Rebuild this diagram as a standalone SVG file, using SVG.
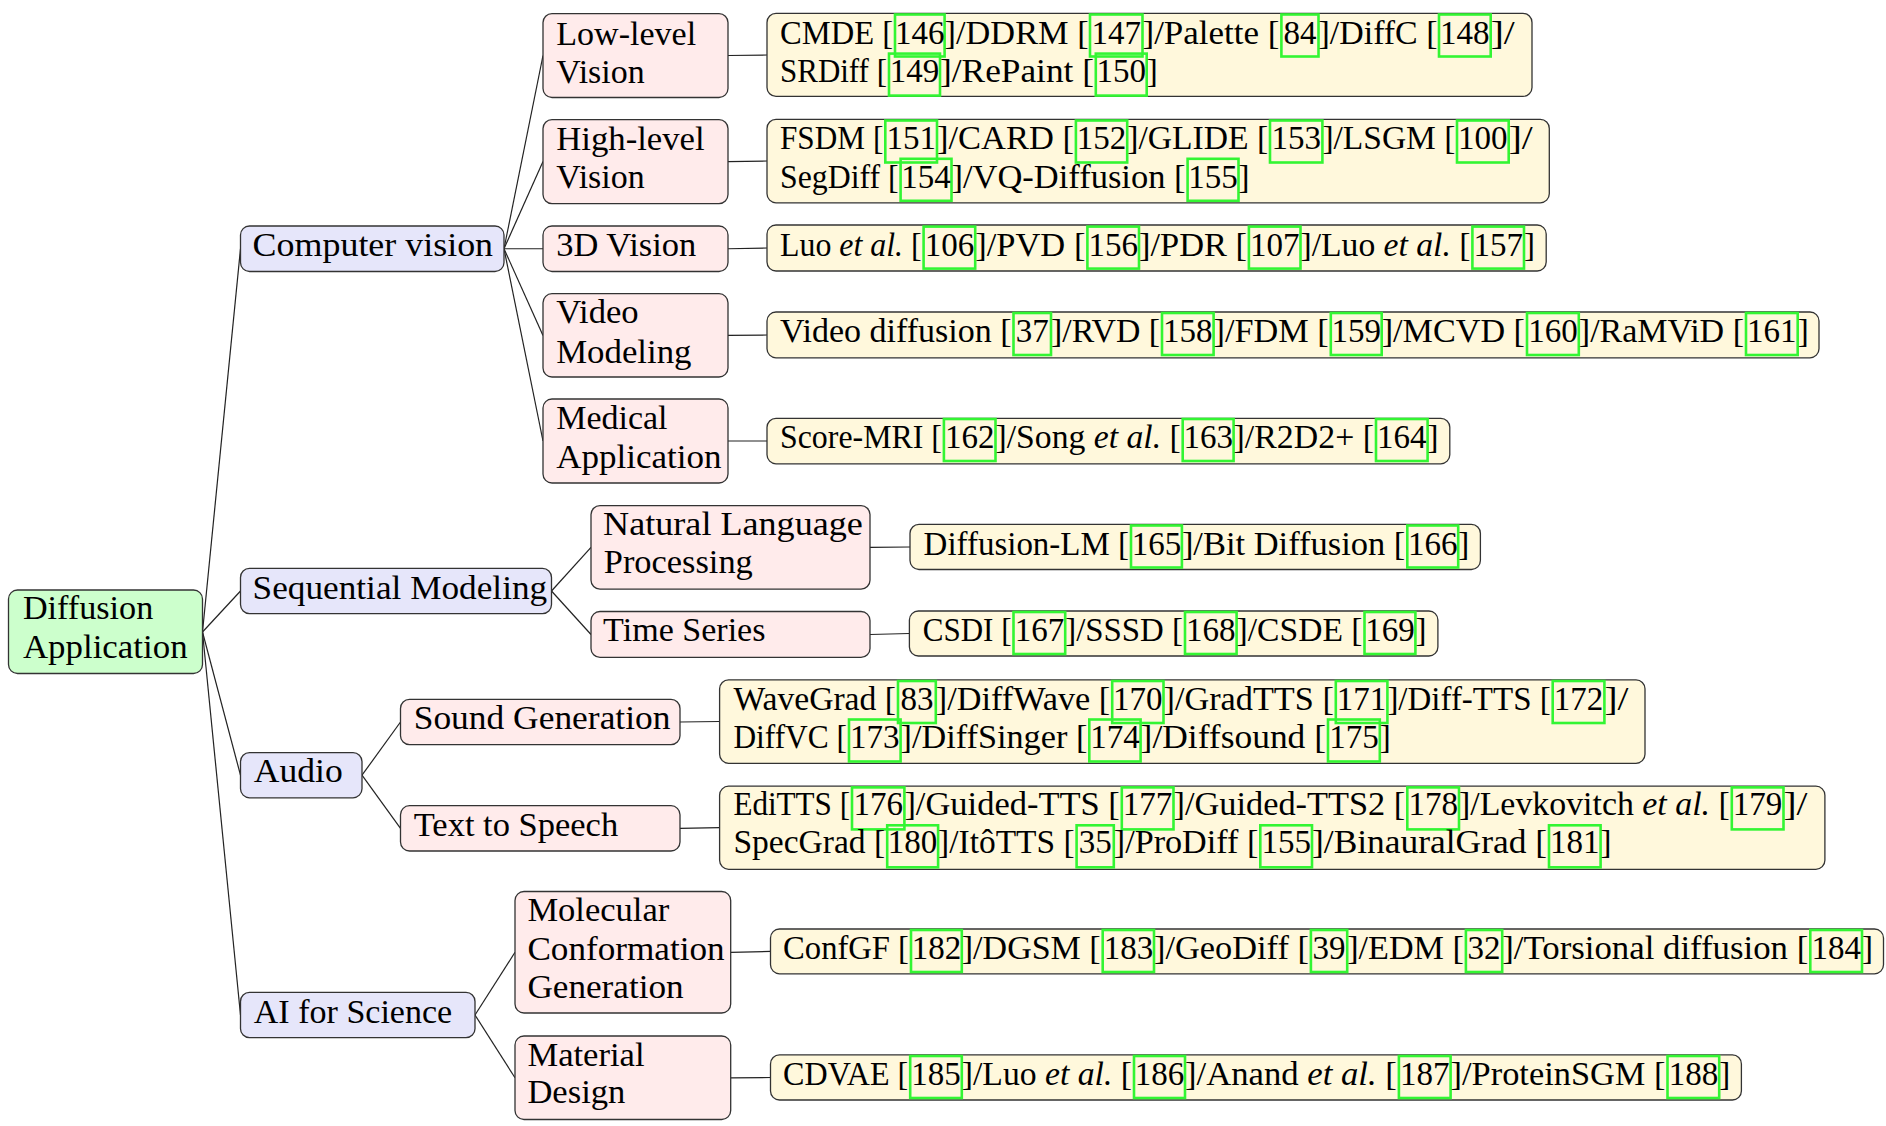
<svg xmlns="http://www.w3.org/2000/svg" width="1886" height="1126" viewBox="0 0 1886 1126">
<style>
.bx{stroke:#333;stroke-width:1.3}
.root{fill:#ccffcc}
.l1{fill:#e6e6fa}
.l2{fill:#ffebeb}
.lf{fill:#fff8dc}
.t{font-family:"Liberation Serif","Times New Roman",serif;font-size:33px;fill:#000}
.n{font-family:"Liberation Serif","Times New Roman",serif;font-size:33px;fill:#000;text-anchor:middle}
.cb{fill:none;stroke:#33f533;stroke-width:2.6}
.c{stroke:#222;stroke-width:1.2;fill:none}
</style>
<rect width="1886" height="1126" fill="#fff"/>
<g id="connectors" class="c">
<line x1="202.5" y1="632" x2="240.5" y2="248.75"/>
<line x1="202.5" y1="632" x2="240.5" y2="591"/>
<line x1="202.5" y1="632" x2="240.5" y2="775.2"/>
<line x1="202.5" y1="632" x2="240.5" y2="1015"/>
<line x1="504" y1="248.75" x2="543" y2="55.5"/>
<line x1="504" y1="248.75" x2="543" y2="161.6"/>
<line x1="504" y1="248.75" x2="543" y2="248.75"/>
<line x1="504" y1="248.75" x2="543" y2="335.4"/>
<line x1="504" y1="248.75" x2="543" y2="441"/>
<line x1="551.5" y1="591" x2="591" y2="547.4"/>
<line x1="551.5" y1="591" x2="591" y2="634.5"/>
<line x1="362" y1="775.2" x2="400.5" y2="722"/>
<line x1="362" y1="775.2" x2="400.5" y2="828.4"/>
<line x1="475" y1="1015" x2="515" y2="952.3"/>
<line x1="475" y1="1015" x2="515" y2="1077.8"/>
<line x1="728" y1="55.5" x2="767" y2="55"/>
<line x1="728" y1="161.6" x2="767" y2="161"/>
<line x1="728" y1="248.75" x2="767" y2="248"/>
<line x1="728" y1="335.4" x2="767" y2="335"/>
<line x1="728" y1="441" x2="767" y2="441"/>
<line x1="870" y1="547.4" x2="910" y2="547"/>
<line x1="870" y1="634.5" x2="909.4" y2="633.5"/>
<line x1="680" y1="722" x2="719.6" y2="721.5"/>
<line x1="680" y1="828.4" x2="719.6" y2="827.7"/>
<line x1="730.7" y1="952.3" x2="770.5" y2="951.4"/>
<line x1="730.7" y1="1077.8" x2="770.5" y2="1077.5"/>
</g>

<g id="root">
<rect class="bx root" x="8.5" y="590" width="194" height="83.5" rx="9"/>
<text class="t" x="22.9" y="619.4" textLength="130.4" lengthAdjust="spacingAndGlyphs">Diffusion</text>
<text class="t" x="22.9" y="658.2" textLength="164.7" lengthAdjust="spacingAndGlyphs">Application</text>
</g>

<g id="computer-vision">
<rect class="bx l1" x="240.5" y="226" width="263.5" height="45.5" rx="9"/>
<text class="t" x="252.6" y="255.7" textLength="240.5" lengthAdjust="spacingAndGlyphs">Computer vision</text>
</g>
<g id="sequential-modeling">
<rect class="bx l1" x="240.5" y="568.4" width="311" height="45.2" rx="9"/>
<text class="t" x="252.6" y="598.9" textLength="294.6" lengthAdjust="spacingAndGlyphs">Sequential Modeling</text>
</g>
<g id="audio">
<rect class="bx l1" x="240.5" y="752.6" width="121.5" height="45.2" rx="9"/>
<text class="t" x="253.8" y="782" textLength="89" lengthAdjust="spacingAndGlyphs">Audio</text>
</g>
<g id="ai-for-science">
<rect class="bx l1" x="240.5" y="992.4" width="234.5" height="45.3" rx="9"/>
<text class="t" x="253.8" y="1022.6" textLength="198.4" lengthAdjust="spacingAndGlyphs">AI for Science</text>
</g>

<g id="low-level-vision">
<rect class="bx l2" x="543" y="13.6" width="185" height="83.9" rx="9"/>
<text class="t" x="556.2" y="44.9" textLength="140" lengthAdjust="spacingAndGlyphs">Low-level</text>
<text class="t" x="556.2" y="82.6" textLength="88.4" lengthAdjust="spacingAndGlyphs">Vision</text>
</g>
<g id="high-level-vision">
<rect class="bx l2" x="543" y="119.6" width="185" height="84" rx="9"/>
<text class="t" x="556.2" y="150" textLength="148.5" lengthAdjust="spacingAndGlyphs">High-level</text>
<text class="t" x="556.2" y="187.8" textLength="88.4" lengthAdjust="spacingAndGlyphs">Vision</text>
</g>
<g id="3d-vision">
<rect class="bx l2" x="543" y="226" width="185" height="45.5" rx="9"/>
<text class="t" x="556.2" y="255.7" textLength="140" lengthAdjust="spacingAndGlyphs">3D Vision</text>
</g>
<g id="video-modeling">
<rect class="bx l2" x="543" y="293.7" width="185" height="83.3" rx="9"/>
<text class="t" x="556.2" y="323" textLength="82.4" lengthAdjust="spacingAndGlyphs">Video</text>
<text class="t" x="556.2" y="362.6" textLength="135.3" lengthAdjust="spacingAndGlyphs">Modeling</text>
</g>
<g id="medical-application">
<rect class="bx l2" x="543" y="399" width="185" height="84" rx="9"/>
<text class="t" x="556.2" y="429" textLength="111.3" lengthAdjust="spacingAndGlyphs">Medical</text>
<text class="t" x="556.2" y="467.5" textLength="165.4" lengthAdjust="spacingAndGlyphs">Application</text>
</g>
<g id="nlp">
<rect class="bx l2" x="591" y="505.6" width="279" height="83.6" rx="9"/>
<text class="t" x="603.1" y="535" textLength="259.8" lengthAdjust="spacingAndGlyphs">Natural Language</text>
<text class="t" x="603.8" y="573" textLength="149" lengthAdjust="spacingAndGlyphs">Processing</text>
</g>
<g id="time-series">
<rect class="bx l2" x="591" y="611.5" width="279" height="45.9" rx="9"/>
<text class="t" x="603.1" y="641.3" textLength="162.4" lengthAdjust="spacingAndGlyphs">Time Series</text>
</g>
<g id="sound-generation">
<rect class="bx l2" x="400.5" y="699.4" width="279.5" height="45.3" rx="9"/>
<text class="t" x="413.7" y="729.2" textLength="256.8" lengthAdjust="spacingAndGlyphs">Sound Generation</text>
</g>
<g id="text-to-speech">
<rect class="bx l2" x="400.5" y="805.7" width="279.5" height="45.3" rx="9"/>
<text class="t" x="413.7" y="835.9" textLength="204.5" lengthAdjust="spacingAndGlyphs">Text to Speech</text>
</g>
<g id="molecular-conformation-generation">
<rect class="bx l2" x="515" y="891.5" width="215.7" height="121.5" rx="9"/>
<text class="t" x="527.4" y="921.3" textLength="141.9" lengthAdjust="spacingAndGlyphs">Molecular</text>
<text class="t" x="527.4" y="959.8" textLength="197.2" lengthAdjust="spacingAndGlyphs">Conformation</text>
<text class="t" x="527.4" y="998.2" textLength="156.3" lengthAdjust="spacingAndGlyphs">Generation</text>
</g>
<g id="material-design">
<rect class="bx l2" x="515" y="1036" width="215.7" height="83.5" rx="9"/>
<text class="t" x="527.4" y="1065.7" textLength="117.2" lengthAdjust="spacingAndGlyphs">Material</text>
<text class="t" x="527.4" y="1103.4" textLength="98" lengthAdjust="spacingAndGlyphs">Design</text>
</g>

<g id="leaf-low-level">
<rect class="bx lf" x="767" y="13.4" width="765" height="83" rx="9"/>
<text class="t" x="780" y="44" textLength="113" lengthAdjust="spacingAndGlyphs">CMDE [</text>
<rect class="cb" x="895" y="14.5" width="49.6" height="42"/><text class="n" x="919.8" y="44">146</text>
<text class="t" x="944.6" y="44" textLength="144" lengthAdjust="spacingAndGlyphs">]/DDRM [</text>
<rect class="cb" x="1090" y="14.5" width="52.5" height="42"/><text class="n" x="1116.2" y="44">147</text>
<text class="t" x="1142.5" y="44" textLength="137" lengthAdjust="spacingAndGlyphs">]/Palette [</text>
<rect class="cb" x="1281.4" y="14.5" width="37.1" height="42"/><text class="n" x="1300" y="44">84</text>
<text class="t" x="1318.5" y="44" textLength="119" lengthAdjust="spacingAndGlyphs">]/DiffC [</text>
<rect class="cb" x="1439" y="14.5" width="51.7" height="42"/><text class="n" x="1464.8" y="44">148</text>
<text class="t" x="1490.7" y="44" textLength="24" lengthAdjust="spacingAndGlyphs">]/</text>
<text class="t" x="780" y="82" textLength="107" lengthAdjust="spacingAndGlyphs">SRDiff [</text>
<rect class="cb" x="889" y="53.6" width="51" height="42"/><text class="n" x="914.5" y="82">149</text>
<text class="t" x="940" y="82" textLength="154" lengthAdjust="spacingAndGlyphs">]/RePaint [</text>
<rect class="cb" x="1095.8" y="53.6" width="50.9" height="42"/><text class="n" x="1121.2" y="82">150</text>
<text class="t" x="1146.7" y="82">]</text>
</g>

<g id="leaf-high-level">
<rect class="bx lf" x="767" y="119.4" width="782.3" height="83.4" rx="9"/>
<text class="t" x="780" y="149" textLength="103.3" lengthAdjust="spacingAndGlyphs">FSDM [</text>
<rect class="cb" x="885.3" y="120.5" width="51.7" height="42"/><text class="n" x="911.2" y="149">151</text>
<text class="t" x="937" y="149" textLength="137" lengthAdjust="spacingAndGlyphs">]/CARD [</text>
<rect class="cb" x="1075.9" y="120.5" width="51.3" height="42"/><text class="n" x="1101.5" y="149">152</text>
<text class="t" x="1127.2" y="149" textLength="141" lengthAdjust="spacingAndGlyphs">]/GLIDE [</text>
<rect class="cb" x="1270" y="120.5" width="52.4" height="42"/><text class="n" x="1296.2" y="149">153</text>
<text class="t" x="1322.4" y="149" textLength="133" lengthAdjust="spacingAndGlyphs">]/LSGM [</text>
<rect class="cb" x="1457" y="120.5" width="51.7" height="42"/><text class="n" x="1482.8" y="149">100</text>
<text class="t" x="1508.7" y="149" textLength="24" lengthAdjust="spacingAndGlyphs">]/</text>
<text class="t" x="780" y="187.5" textLength="118.6" lengthAdjust="spacingAndGlyphs">SegDiff [</text>
<rect class="cb" x="900.6" y="158.8" width="50.9" height="42"/><text class="n" x="926" y="187.5">154</text>
<text class="t" x="951.5" y="187.5" textLength="234" lengthAdjust="spacingAndGlyphs">]/VQ-Diffusion [</text>
<rect class="cb" x="1187.6" y="158.8" width="50.9" height="42"/><text class="n" x="1213" y="187.5">155</text>
<text class="t" x="1238.5" y="187.5">]</text>
</g>

<g id="leaf-3d-vision">
<rect class="bx lf" x="767" y="225" width="779.2" height="46" rx="9"/>
<text class="t" x="780" y="255.6" textLength="141.6" lengthAdjust="spacingAndGlyphs">Luo <tspan font-style="italic">et al.</tspan> [</text>
<rect class="cb" x="923.6" y="226.6" width="51.6" height="42"/><text class="n" x="949.4" y="255.6">106</text>
<text class="t" x="975.2" y="255.6" textLength="110.2" lengthAdjust="spacingAndGlyphs">]/PVD [</text>
<rect class="cb" x="1087.4" y="226.6" width="51.6" height="42"/><text class="n" x="1113.2" y="255.6">156</text>
<text class="t" x="1139" y="255.6" textLength="108" lengthAdjust="spacingAndGlyphs">]/PDR [</text>
<rect class="cb" x="1248.9" y="226.6" width="51.6" height="42"/><text class="n" x="1274.7" y="255.6">107</text>
<text class="t" x="1300.5" y="255.6" textLength="170" lengthAdjust="spacingAndGlyphs">]/Luo <tspan font-style="italic">et al.</tspan> [</text>
<rect class="cb" x="1472.4" y="226.6" width="51.6" height="42"/><text class="n" x="1498.2" y="255.6">157</text>
<text class="t" x="1524" y="255.6">]</text>
</g>

<g id="leaf-video-modeling">
<rect class="bx lf" x="767" y="312" width="1052" height="45.8" rx="9"/>
<text class="t" x="780" y="341.7" textLength="231.5" lengthAdjust="spacingAndGlyphs">Video diffusion [</text>
<rect class="cb" x="1013.5" y="313" width="37.5" height="42"/><text class="n" x="1032.2" y="341.7">37</text>
<text class="t" x="1051" y="341.7" textLength="109" lengthAdjust="spacingAndGlyphs">]/RVD [</text>
<rect class="cb" x="1162" y="313" width="51.6" height="42"/><text class="n" x="1187.8" y="341.7">158</text>
<text class="t" x="1213.6" y="341.7" textLength="115.2" lengthAdjust="spacingAndGlyphs">]/FDM [</text>
<rect class="cb" x="1330.8" y="313" width="50.9" height="42"/><text class="n" x="1356.2" y="341.7">159</text>
<text class="t" x="1381.7" y="341.7" textLength="143.3" lengthAdjust="spacingAndGlyphs">]/MCVD [</text>
<rect class="cb" x="1527" y="313" width="51.8" height="42"/><text class="n" x="1552.9" y="341.7">160</text>
<text class="t" x="1578.8" y="341.7" textLength="165.2" lengthAdjust="spacingAndGlyphs">]/RaMViD [</text>
<rect class="cb" x="1746" y="313" width="51.7" height="42"/><text class="n" x="1771.8" y="341.7">161</text>
<text class="t" x="1797.7" y="341.7">]</text>
</g>

<g id="leaf-medical">
<rect class="bx lf" x="767" y="418.3" width="682.8" height="45.5" rx="9"/>
<text class="t" x="780" y="447.8" textLength="161.9" lengthAdjust="spacingAndGlyphs">Score-MRI [</text>
<rect class="cb" x="943.9" y="419" width="51.6" height="42"/><text class="n" x="969.7" y="447.8">162</text>
<text class="t" x="995.5" y="447.8" textLength="185.2" lengthAdjust="spacingAndGlyphs">]/Song <tspan font-style="italic">et al.</tspan> [</text>
<rect class="cb" x="1182.7" y="419" width="50.9" height="42"/><text class="n" x="1208.2" y="447.8">163</text>
<text class="t" x="1233.6" y="447.8" textLength="140.4" lengthAdjust="spacingAndGlyphs">]/R2D2+ [</text>
<rect class="cb" x="1376" y="419" width="51.6" height="42"/><text class="n" x="1401.8" y="447.8">164</text>
<text class="t" x="1427.6" y="447.8">]</text>
</g>

<g id="leaf-nlp">
<rect class="bx lf" x="910" y="524.3" width="570.4" height="45.2" rx="9"/>
<text class="t" x="923.6" y="555" textLength="205.4" lengthAdjust="spacingAndGlyphs">Diffusion-LM [</text>
<rect class="cb" x="1131" y="525.5" width="50.9" height="42"/><text class="n" x="1156.4" y="555">165</text>
<text class="t" x="1181.9" y="555" textLength="223.4" lengthAdjust="spacingAndGlyphs">]/Bit Diffusion [</text>
<rect class="cb" x="1407.3" y="525.5" width="50.9" height="42"/><text class="n" x="1432.8" y="555">166</text>
<text class="t" x="1458.2" y="555">]</text>
</g>

<g id="leaf-time-series">
<rect class="bx lf" x="909.4" y="611" width="528.5" height="45" rx="9"/>
<text class="t" x="922.8" y="640.8" textLength="88.7" lengthAdjust="spacingAndGlyphs">CSDI [</text>
<rect class="cb" x="1013.5" y="612" width="51.7" height="42"/><text class="n" x="1039.4" y="640.8">167</text>
<text class="t" x="1065.2" y="640.8" textLength="117.8" lengthAdjust="spacingAndGlyphs">]/SSSD [</text>
<rect class="cb" x="1185" y="612" width="51.6" height="42"/><text class="n" x="1210.8" y="640.8">168</text>
<text class="t" x="1236.6" y="640.8" textLength="125.9" lengthAdjust="spacingAndGlyphs">]/CSDE [</text>
<rect class="cb" x="1364.5" y="612" width="50.9" height="42"/><text class="n" x="1390" y="640.8">169</text>
<text class="t" x="1415.4" y="640.8">]</text>
</g>

<g id="leaf-sound-generation">
<rect class="bx lf" x="719.6" y="679.8" width="925.4" height="83.5" rx="9"/>
<text class="t" x="733.4" y="709.7" textLength="162.6" lengthAdjust="spacingAndGlyphs">WaveGrad [</text>
<rect class="cb" x="898" y="681" width="37.8" height="42"/><text class="n" x="916.9" y="709.7">83</text>
<text class="t" x="935.8" y="709.7" textLength="174.4" lengthAdjust="spacingAndGlyphs">]/DiffWave [</text>
<rect class="cb" x="1112.2" y="681" width="51.3" height="42"/><text class="n" x="1137.8" y="709.7">170</text>
<text class="t" x="1163.5" y="709.7" textLength="170.3" lengthAdjust="spacingAndGlyphs">]/GradTTS [</text>
<rect class="cb" x="1335.8" y="681" width="51.6" height="42"/><text class="n" x="1361.6" y="709.7">171</text>
<text class="t" x="1387.4" y="709.7" textLength="163.3" lengthAdjust="spacingAndGlyphs">]/Diff-TTS [</text>
<rect class="cb" x="1552.7" y="681" width="51.7" height="42"/><text class="n" x="1578.5" y="709.7">172</text>
<text class="t" x="1604.4" y="709.7" textLength="24" lengthAdjust="spacingAndGlyphs">]/</text>
<text class="t" x="733.4" y="748" textLength="113.6" lengthAdjust="spacingAndGlyphs">DiffVC [</text>
<rect class="cb" x="849" y="719.5" width="51.6" height="42"/><text class="n" x="874.8" y="748">173</text>
<text class="t" x="900.6" y="748" textLength="186.7" lengthAdjust="spacingAndGlyphs">]/DiffSinger [</text>
<rect class="cb" x="1089.3" y="719.5" width="51.3" height="42"/><text class="n" x="1115" y="748">174</text>
<text class="t" x="1140.6" y="748" textLength="185.4" lengthAdjust="spacingAndGlyphs">]/Diffsound [</text>
<rect class="cb" x="1328" y="719.5" width="51.8" height="42"/><text class="n" x="1353.9" y="748">175</text>
<text class="t" x="1379.8" y="748">]</text>
</g>

<g id="leaf-text-to-speech">
<rect class="bx lf" x="719.6" y="786.2" width="1105.3" height="83.1" rx="9"/>
<text class="t" x="733.4" y="815" textLength="116.6" lengthAdjust="spacingAndGlyphs">EdiTTS [</text>
<rect class="cb" x="852" y="787.4" width="52.4" height="42"/><text class="n" x="878.2" y="815">176</text>
<text class="t" x="904.4" y="815" textLength="215.4" lengthAdjust="spacingAndGlyphs">]/Guided-TTS [</text>
<rect class="cb" x="1121.8" y="787.4" width="51.7" height="42"/><text class="n" x="1147.6" y="815">177</text>
<text class="t" x="1173.5" y="815" textLength="231.8" lengthAdjust="spacingAndGlyphs">]/Guided-TTS2 [</text>
<rect class="cb" x="1407.3" y="787.4" width="51.7" height="42"/><text class="n" x="1433.2" y="815">178</text>
<text class="t" x="1459" y="815" textLength="270.8" lengthAdjust="spacingAndGlyphs">]/Levkovitch <tspan font-style="italic">et al.</tspan> [</text>
<rect class="cb" x="1731.8" y="787.4" width="51.7" height="42"/><text class="n" x="1757.6" y="815">179</text>
<text class="t" x="1783.5" y="815" textLength="24" lengthAdjust="spacingAndGlyphs">]/</text>
<text class="t" x="733.4" y="853.2" textLength="151.8" lengthAdjust="spacingAndGlyphs">SpecGrad [</text>
<rect class="cb" x="887.2" y="825.3" width="50.9" height="42"/><text class="n" x="912.6" y="853.2">180</text>
<text class="t" x="938.1" y="853.2" textLength="136.5" lengthAdjust="spacingAndGlyphs">]/ItôTTS [</text>
<rect class="cb" x="1076.6" y="825.3" width="37.2" height="42"/><text class="n" x="1095.2" y="853.2">35</text>
<text class="t" x="1113.8" y="853.2" textLength="144.5" lengthAdjust="spacingAndGlyphs">]/ProDiff [</text>
<rect class="cb" x="1260.3" y="825.3" width="51.7" height="42"/><text class="n" x="1286.2" y="853.2">155</text>
<text class="t" x="1312" y="853.2" textLength="235" lengthAdjust="spacingAndGlyphs">]/BinauralGrad [</text>
<rect class="cb" x="1549" y="825.3" width="51.6" height="42"/><text class="n" x="1574.8" y="853.2">181</text>
<text class="t" x="1600.6" y="853.2">]</text>
</g>

<g id="leaf-molecular">
<rect class="bx lf" x="770.5" y="929" width="1113" height="44.8" rx="9"/>
<text class="t" x="783.1" y="958.5" textLength="125.9" lengthAdjust="spacingAndGlyphs">ConfGF [</text>
<rect class="cb" x="911" y="930" width="50.8" height="42"/><text class="n" x="936.4" y="958.5">182</text>
<text class="t" x="961.8" y="958.5" textLength="138.9" lengthAdjust="spacingAndGlyphs">]/DGSM [</text>
<rect class="cb" x="1102.7" y="930" width="51.3" height="42"/><text class="n" x="1128.4" y="958.5">183</text>
<text class="t" x="1154" y="958.5" textLength="154.9" lengthAdjust="spacingAndGlyphs">]/GeoDiff [</text>
<rect class="cb" x="1310.9" y="930" width="36.3" height="42"/><text class="n" x="1329" y="958.5">39</text>
<text class="t" x="1347.2" y="958.5" textLength="116.7" lengthAdjust="spacingAndGlyphs">]/EDM [</text>
<rect class="cb" x="1465.9" y="930" width="36.3" height="42"/><text class="n" x="1484" y="958.5">32</text>
<text class="t" x="1502.2" y="958.5" textLength="306.1" lengthAdjust="spacingAndGlyphs">]/Torsional diffusion [</text>
<rect class="cb" x="1810.3" y="930" width="51.7" height="42"/><text class="n" x="1836.2" y="958.5">184</text>
<text class="t" x="1862" y="958.5">]</text>
</g>

<g id="leaf-material">
<rect class="bx lf" x="770.5" y="1054.9" width="970.9" height="45.1" rx="9"/>
<text class="t" x="783.1" y="1084.7" textLength="125.1" lengthAdjust="spacingAndGlyphs">CDVAE [</text>
<rect class="cb" x="910.2" y="1056" width="51.6" height="42"/><text class="n" x="936" y="1084.7">185</text>
<text class="t" x="961.8" y="1084.7" textLength="170.2" lengthAdjust="spacingAndGlyphs">]/Luo <tspan font-style="italic">et al.</tspan> [</text>
<rect class="cb" x="1134" y="1056" width="51" height="42"/><text class="n" x="1159.5" y="1084.7">186</text>
<text class="t" x="1185" y="1084.7" textLength="211.9" lengthAdjust="spacingAndGlyphs">]/Anand <tspan font-style="italic">et al.</tspan> [</text>
<rect class="cb" x="1398.9" y="1056" width="51.7" height="42"/><text class="n" x="1424.8" y="1084.7">187</text>
<text class="t" x="1450.6" y="1084.7" textLength="214.9" lengthAdjust="spacingAndGlyphs">]/ProteinSGM [</text>
<rect class="cb" x="1667.5" y="1056" width="51.7" height="42"/><text class="n" x="1693.4" y="1084.7">188</text>
<text class="t" x="1719.2" y="1084.7">]</text>
</g>
</svg>
